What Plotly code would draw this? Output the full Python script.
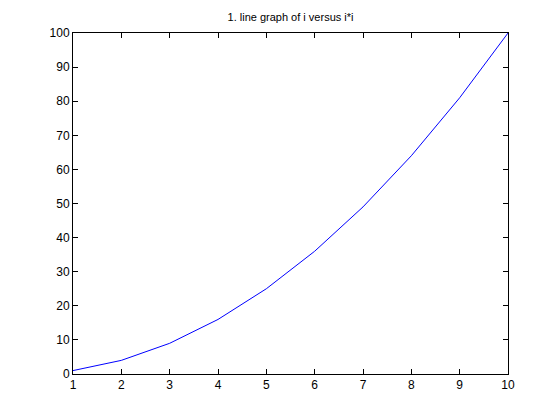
import plotly.graph_objects as go

x_vals = [1, 2, 3, 4, 5, 6, 7, 8, 9, 10]
y_vals = [1, 4, 9, 16, 25, 36, 49, 64, 81, 100]
x_ticks = [1, 2, 3, 4, 5, 6, 7, 8, 9, 10]
y_ticks = [0, 10, 20, 30, 40, 50, 60, 70, 80, 90, 100]
title_text = "1. line graph of i versus i*i"

fig = go.Figure(go.Scatter(x=x_vals, y=y_vals, mode="lines",
                           line=dict(color="#0000ff", width=1)))

axis_common = dict(showgrid=False, zeroline=False, showline=True, linecolor="black",
                   linewidth=1, mirror="ticks", ticks="inside", ticklen=5,
                   tickcolor="black", tickwidth=1,
                   tickfont=dict(family="Liberation Sans, Arial, sans-serif", size=12, color="black"))

fig.update_layout(
    width=560, height=420,
    margin=dict(l=65, r=60, t=25, b=54),
    paper_bgcolor="white", plot_bgcolor="white",
    showlegend=False,
    title=dict(text=title_text, x=0.5, xanchor="center", xref="paper",
               y=1 - 9 / 420, yanchor="middle",
               font=dict(family="Liberation Sans, Arial, sans-serif", size=11, color="black")),
    xaxis=dict(range=[1, 10], tickvals=x_ticks, **axis_common),
    yaxis=dict(range=[0, 100], tickvals=y_ticks, **axis_common),
)

fig.write_html("out.html")
